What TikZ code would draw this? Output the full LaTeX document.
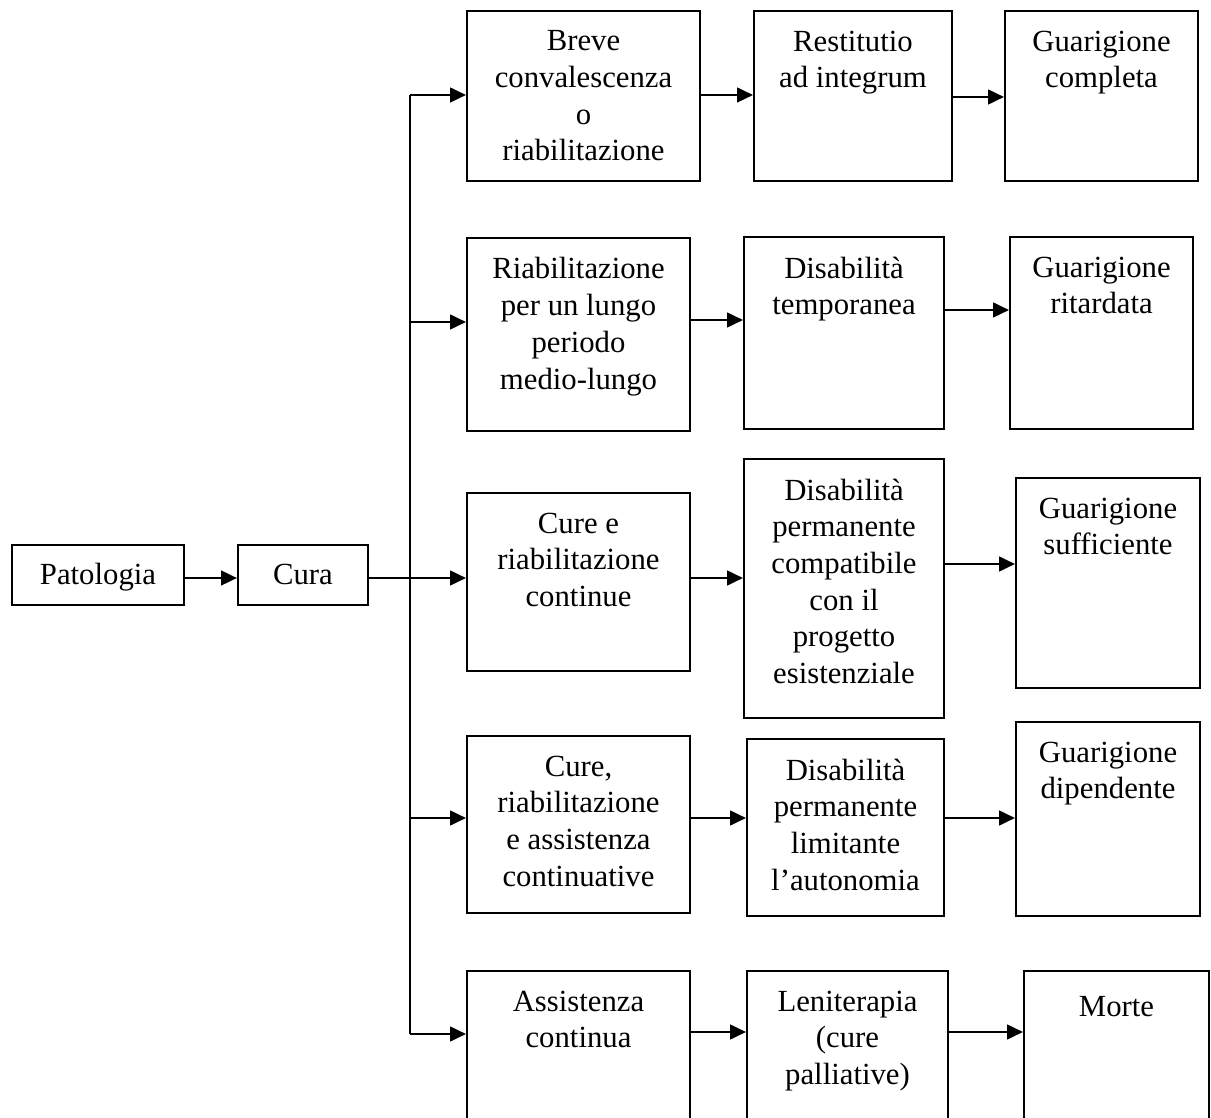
\documentclass[tikz,border=0pt]{standalone}
\usepackage{fontspec}
\setmainfont{Liberation Serif}
\usetikzlibrary{arrows.meta,fit}

\begin{document}
\begin{tikzpicture}[x=0.3774pt, y=-0.3774pt, >={Triangle[length=6pt,width=5.5pt]},
	every node/.style={font=\fontsize{11.6}{13.85}\selectfont},
	box/.style={draw, line width=0.75pt, inner sep=0pt},
	txt/.style={anchor=north, align=center, inner sep=0pt, yshift=-7.6pt, execute at begin node=\strut},
	link/.style={->, line width=1pt}]
	\useasboundingbox (0,0) rectangle (1211,1118);
	% start
	\node[box, minimum width=64.9pt, minimum height=22.6pt, text height=9pt, text depth=2pt] (patologia) at (98,575) {Patologia};
	\node[box, minimum width=49.1pt, minimum height=22.6pt, text height=9pt, text depth=2pt] (cura) at (303,575) {Cura};
	\draw[link] (patologia.east |- 0,578) -- (cura.west |- 0,578);
	% column 2
	\node[box, fit={(467,11) (700,181)}] (breve) {};
	\node[box, fit={(467,238) (690,431)}] (lungo) {};
	\node[box, fit={(467,493) (690,671)}] (continue) {};
	\node[box, fit={(467,736) (690,913)}] (continuative) {};
	\node[box, fit={(467,971) (690,1140)}] (assistenza) {};
	\node[txt] (breve-t) at (breve.north) {Breve\\convalescenza\\o\\riabilitazione};
	\node[txt] (lungo-t) at (lungo.north) {Riabilitazione\\per un lungo\\periodo\\medio-lungo};
	\node[txt] (continue-t) at (continue.north) {Cure e\\riabilitazione\\continue};
	\node[txt] (continuative-t) at (continuative.north) {Cure,\\riabilitazione\\e assistenza\\continuative};
	\node[txt] (assistenza-t) at (assistenza.north) {Assistenza\\continua};
	% column 3
	\node[box, fit={(754,11) (952,181)}] (restitutio) {};
	\node[box, fit={(744,237) (944,429)}] (temporanea) {};
	\node[box, fit={(744,459) (944,718)}] (compatibile) {};
	\node[box, fit={(747,739) (944,916)}] (limitante) {};
	\node[box, fit={(747,971) (948,1140)}] (leniterapia) {};
	\node[txt] (restitutio-t) at (restitutio.north) {Restitutio\\ad integrum};
	\node[txt] (temporanea-t) at (temporanea.north) {Disabilità\\temporanea};
	\node[txt] (compatibile-t) at (compatibile.north) {Disabilità\\permanente\\compatibile\\con il\\progetto\\esistenziale};
	\node[txt] (limitante-t) at (limitante.north) {Disabilità\\permanente\\limitante\\l’autonomia};
	\node[txt] (leniterapia-t) at (leniterapia.north) {Leniterapia\\(cure\\palliative)};
	% column 4
	\node[box, fit={(1005,11) (1198,181)}] (completa) {};
	\node[box, fit={(1010,237) (1193,429)}] (ritardata) {};
	\node[box, fit={(1016,478) (1200,688)}] (sufficiente) {};
	\node[box, fit={(1016,722) (1200,916)}] (dipendente) {};
	\node[box, fit={(1024,971) (1209,1140)}] (morte) {};
	\node[txt] (completa-t) at (completa.north) {Guarigione\\completa};
	\node[txt] (ritardata-t) at (ritardata.north) {Guarigione\\ritardata};
	\node[txt] (sufficiente-t) at (sufficiente.north) {Guarigione\\sufficiente};
	\node[txt] (dipendente-t) at (dipendente.north) {Guarigione\\dipendente};
	\node[txt] (morte-t) at (morte.north) {Morte};
	% branching line
	\coordinate (bus1) at (410,95);
	\coordinate (bus2) at (410,322);
	\coordinate (bus4) at (410,818);
	\coordinate (bus5) at (410,1034);
	\draw[line width=0.75pt] (bus1) -- (bus5);
	\draw[link] (cura.east |- 0,578) -- (continue.west |- 0,578);
	\draw[link] (bus1) -- (bus1 -| breve.west);
	\draw[link] (bus2) -- (bus2 -| lungo.west);
	\draw[link] (bus4) -- (bus4 -| continuative.west);
	\draw[link] (bus5) -- (bus5 -| assistenza.west);
	% rows
	\draw[link] (breve.east |- 0,95) -- (restitutio.west |- 0,95);
	\draw[link] (restitutio.east |- 0,97) -- (completa.west |- 0,97);
	\draw[link] (lungo.east |- 0,320) -- (temporanea.west |- 0,320);
	\draw[link] (temporanea.east |- 0,310) -- (ritardata.west |- 0,310);
	\draw[link] (continue.east |- 0,578) -- (compatibile.west |- 0,578);
	\draw[link] (compatibile.east |- 0,564) -- (sufficiente.west |- 0,564);
	\draw[link] (continuative.east |- 0,818) -- (limitante.west |- 0,818);
	\draw[link] (limitante.east |- 0,818) -- (dipendente.west |- 0,818);
	\draw[link] (assistenza.east |- 0,1032) -- (leniterapia.west |- 0,1032);
	\draw[link] (leniterapia.east |- 0,1032) -- (morte.west |- 0,1032);
\end{tikzpicture}
\end{document}
